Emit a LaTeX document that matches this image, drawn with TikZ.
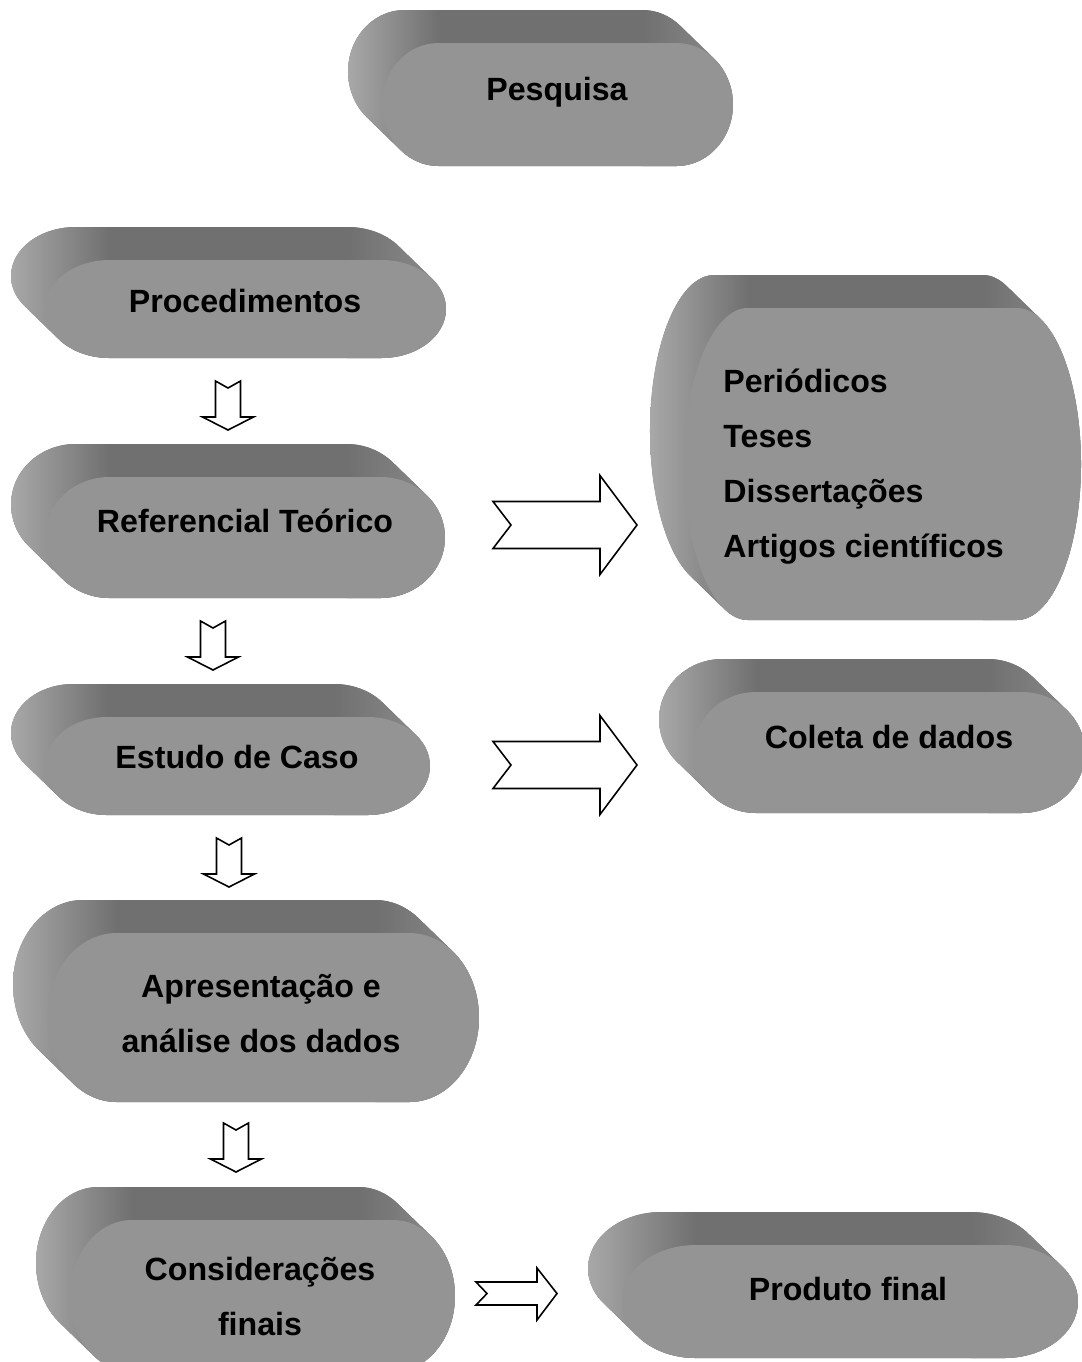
\documentclass[tikz,border=0pt]{standalone}
\usepackage{fontspec}
\setmainfont{Liberation Sans}
\usetikzlibrary{calc}

\definecolor{frente}{HTML}{949494}
\definecolor{topo}{HTML}{707070}
\definecolor{lado}{HTML}{A8A8A8}
\definecolor{brilho}{HTML}{8C8C8C}

% 3D terminator: front face from (#1,#2) to (#3,#4), in pixels
\newcommand{\caixa}[4]{%
	\pgfmathsetmacro{\rx}{0.161*(#3-#1)}%
	\pgfmathsetmacro{\ry}{(#4-#2)/2}%
	\pgfmathsetmacro{\ta}{atan2(-34*\ry,33*\rx)}%
	\pgfmathsetmacro{\tb}{atan2(34*\ry,-33*\rx)}%
	\def\casco{(#1+\rx-34,#2-33) -- (#3-\rx-34,#2-33)
		arc[start angle=-90,end angle=\ta,x radius=\rx,y radius=\ry] -- ++(34,33)
		arc[start angle=\ta,end angle=90,x radius=\rx,y radius=\ry] -- (#1+\rx,#4)
		arc[start angle=90,end angle=\tb,x radius=\rx,y radius=\ry] -- ++(-34,-33)
		arc[start angle=\tb,end angle=270,x radius=\rx,y radius=\ry] -- cycle}%
	\begin{scope}
		\clip \casco;
		\fill[topo] (#1-40,#2-40) rectangle (#3+5,#4+5);
		\shade[left color=lado,right color=topo] (#1-34,#2-33) rectangle (#1+\rx,#4);
		\shade[left color=topo,right color=brilho] (#3-\rx-34,#2-33) rectangle (#3,#4);
	\end{scope}
	\fill[frente] (#1+\rx,#2) -- (#3-\rx,#2)
		arc[start angle=-90,end angle=90,x radius=\rx,y radius=\ry] -- (#1+\rx,#4)
		arc[start angle=90,end angle=270,x radius=\rx,y radius=\ry] -- cycle;
}

\begin{document}
\begin{tikzpicture}[x=0.2mm,y=-0.2mm,
		rotulo/.style={font=\fontsize{18.3}{31.2}\selectfont\bfseries, inner sep=0pt, anchor=base},
		seta/.style={draw=black, fill=white, line width=0.9pt, line join=miter}
	]
	\useasboundingbox (0,0) rectangle (1082,1362);
	\clip (0,0) rectangle (1082,1362);

	% Draw the grey 3D boxes
	\foreach \L/\T/\R/\B in {382/43/733/166, 45/260/446/358, 45/477/445/598,
		45/717/430/815, 47/933/479/1102, 70/1220/455/1372,
		684/308/1081/620, 693/692/1085/813, 622/1245/1078/1358}
		{\caixa{\L}{\T}{\R}{\B}}

	% Labels of the boxes
	\node[rotulo] (pesquisa) at (557,100) {Pesquisa};
	\node[rotulo] (proced) at (245,312) {Procedimentos};
	\node[rotulo] (refteo) at (245,532) {Referencial Teórico};
	\node[rotulo] (estudo) at (237,768) {Estudo de Caso};
	\node[rotulo, align=center] (apres) at (261,1052) {Apresentação e\\análise dos dados};
	\node[rotulo, align=center] (consid) at (260,1335) {Considerações\\finais};
	\node[rotulo, align=left, anchor=base west] (fontes) at (723,557) {Periódicos\\Teses\\Dissertações\\Artigos científicos};
	\node[rotulo] (coleta) at (889,748) {Coleta de dados};
	\node[rotulo] (produto) at (848,1300) {Produto final};

	% Down arrows between the steps
	\foreach \x/\y in {228/381, 213/621, 229/838, 236/1123}
		\draw[seta] (\x-12.5,\y) -- ++(12.5,7) -- ++(12.5,-7) -- ++(0,36) -- ++(13,0)
			-- ++(-25.5,13) -- ++(-25.5,-13) -- ++(13,0) -- cycle;

	% Right arrows to the sources
	\foreach \y in {525, 765}
		\draw[seta] (493,\y-23.5) -- (600,\y-23.5) -- (600,\y-49.5) -- (637,\y)
			-- (600,\y+49.5) -- (600,\y+23.5) -- (493,\y+23.5) -- (511,\y) -- cycle;
	\draw[seta] (476,1282) -- (537,1282) -- (537,1268) -- (557,1293.5) -- (537,1320)
		-- (537,1305) -- (476,1305) -- (487,1293.5) -- cycle;
\end{tikzpicture}
\end{document}
